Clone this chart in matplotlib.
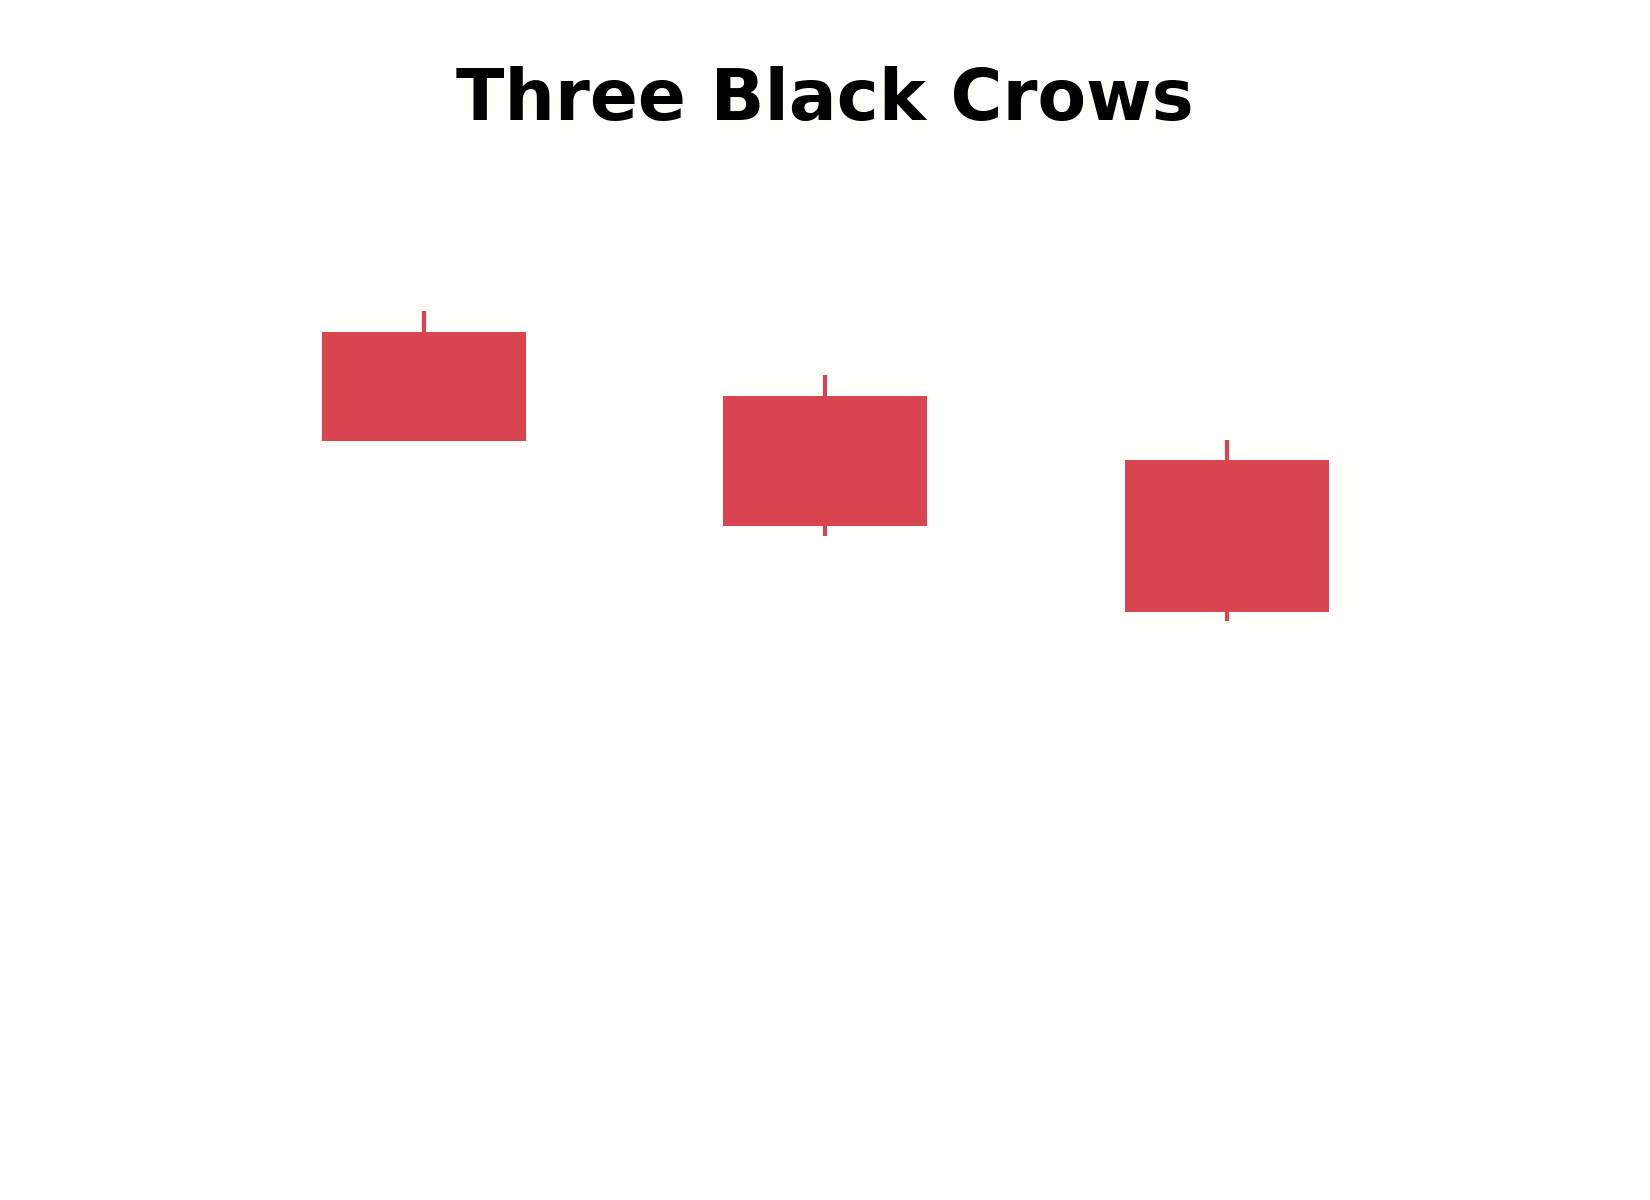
import matplotlib
matplotlib.use("Agg")
import matplotlib.pyplot as plt
from matplotlib.patches import Rectangle

# Data
days = [0, 1, 2]
opens = [100.0, 96.8, 93.6]
highs = [101.05, 97.85, 94.6]
lows = [94.55, 89.8, 85.55]
closes = [94.55, 90.3, 86.0]
title = "Three Black Crows"

BG = "#FEFEFA"
RED = "#D84550"
body_w = 0.508

fig = plt.figure(figsize=(16.5, 12), dpi=100, facecolor=BG)
ax = fig.add_axes([0, 1 - 1150 / 1200, 1, 1000 / 1200])
ax.set_facecolor(BG)

for x, o, h, l, c in zip(days, opens, highs, lows, closes):
    ax.plot([x, x], [l, h], color=RED, lw=3, solid_capstyle="butt", zorder=1)
    ax.add_patch(Rectangle((x - body_w / 2, min(o, c)), body_w, abs(o - c),
                           facecolor=RED, edgecolor="none", zorder=2))

ax.set_xlim(-1.056, 3.054)
ax.set_ylim(59.1, 109.1)
ax.axis("off")

fig.text(0.5, 0.9, title, ha="center", va="baseline", fontsize=51,
         fontweight="bold", color="black")

fig.savefig("out.png", dpi=100, facecolor=BG)
